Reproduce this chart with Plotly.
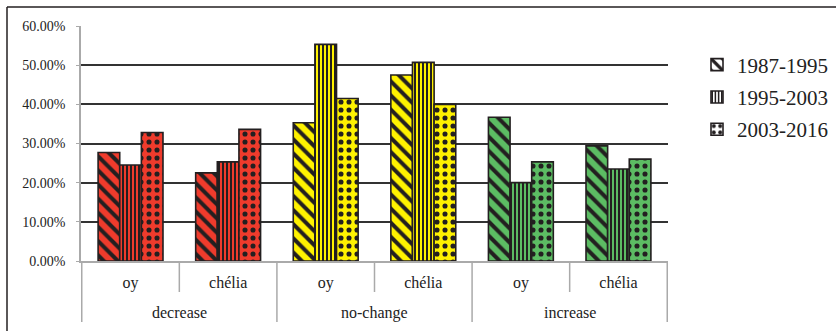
import plotly.graph_objects as go

# Categories: change class (group) and site (sub-category)
groups = ["decrease", "decrease", "no-change", "no-change", "increase", "increase"]
sites = ["oy", "chélia", "oy", "chélia", "oy", "chélia"]
group_names = ["decrease", "no-change", "increase"]

# Share of area per period (fractions)
periods = ["1987-1995", "1995-2003", "2003-2016"]
p1987_1995 = [0.277, 0.225, 0.353, 0.475, 0.367, 0.294]
p1995_2003 = [0.245, 0.253, 0.553, 0.507, 0.200, 0.235]
p2003_2016 = [0.328, 0.336, 0.415, 0.400, 0.253, 0.260]
series = [p1987_1995, p1995_2003, p2003_2016]

y_ticks = [0.0, 0.1, 0.2, 0.3, 0.4, 0.5, 0.6]

# Style
RED, YELLOW, GREEN = "#ef3b2c", "#fff200", "#5cbc63"
group_color = {"decrease": RED, "no-change": YELLOW, "increase": GREEN}
shapes_pat = ["\\", "|", "."]
pat_size = [10, 4, 8]
pat_solid = [0.4, 0.5, 0.32]
INK = "#231f20"
FONT = "Liberation Serif"

W, H = 836, 331
ML, MR, MT, MB = 81, 168, 26, 70
PW, PH = W - ML - MR, H - MT - MB

keys = [f"{g}|{s}" for g, s in zip(groups, sites)]

fig = go.Figure()
for i, (name, vals) in enumerate(zip(periods, series)):
    pattern = dict(shape=shapes_pat[i], fgcolor=INK, size=pat_size[i],
                   solidity=pat_solid[i], fillmode="replace")
    # one trace per change class so each keeps a single fill colour;
    # offsetgroup keeps the period slot consistent across classes
    for g in group_names:
        idx = [k for k, gg in enumerate(groups) if gg == g]
        col = group_color[g]
        fig.add_trace(go.Bar(
            x=[keys[k] for k in idx], y=[vals[k] for k in idx],
            name=name, offsetgroup=str(i), legendgroup=name, showlegend=False,
            marker=dict(color=col, line=dict(color=INK, width=1.6),
                        pattern=dict(pattern, bgcolor=col)),
            hovertemplate="%{y:.2%}<extra>" + name + "</extra>",
        ))
    # legend swatch in black and white
    fig.add_trace(go.Bar(
        x=[keys[0]], y=[None], name=name, offsetgroup=str(i),
        legendgroup=name, showlegend=True,
        marker=dict(color="white", line=dict(color=INK, width=1.6),
                    pattern=dict(pattern, bgcolor="white")),
    ))

# Category separators below the axis
shapes = []
sub_len = (292 - 261) / PH
grp_len = (322 - 261) / PH
for b in range(len(keys) + 1):
    edge = b - 0.5
    is_group = b == 0 or b == len(keys) or groups[b] != groups[b - 1]
    shapes.append(dict(type="line", xref="x", yref="paper", x0=edge, x1=edge,
                       y0=0, y1=-(grp_len if is_group else sub_len),
                       line=dict(color="#aaaaaa", width=1.5)))

# Outer frame: only its top and left edges lie inside the figure
frame_left = (7 - ML) / PW
frame_top = 1 + (MT - 7) / PH
frame_bottom = -(H + 20 - MT - PH) / PH
frame_right = (W + 20 - ML) / PW
for x0, y0, x1, y1 in [(frame_left, frame_top, frame_right, frame_top),
                       (frame_left, frame_bottom, frame_left, frame_top)]:
    shapes.append(dict(type="line", xref="paper", yref="paper",
                       x0=x0, y0=y0, x1=x1, y1=y1,
                       line=dict(color=INK, width=1.5), layer="below"))

# Group labels
annotations = []
for g in group_names:
    idx = [i for i, gg in enumerate(groups) if gg == g]
    annotations.append(dict(text=g, xref="x", yref="paper",
                            x=(idx[0] + idx[-1]) / 2, y=-(313 - 261) / PH,
                            showarrow=False, yanchor="middle",
                            font=dict(family=FONT, size=16, color="#222")))

fig.update_layout(
    width=W, height=H,
    margin=dict(l=ML, r=MR, t=MT, b=MB, autoexpand=False),
    paper_bgcolor="white", plot_bgcolor="white",
    barmode="group", bargap=0.335, bargroupgap=0,
    shapes=shapes, annotations=annotations,
    legend=dict(x=(697 - ML) / PW, xanchor="left", y=(261 - 97) / PH,
                yanchor="middle", bgcolor="rgba(0,0,0,0)",
                traceorder="grouped", tracegroupgap=2,
                font=dict(family=FONT, size=21, color="#222")),
    font=dict(family=FONT, color="#222"),
)
fig.update_xaxes(type="category", tickvals=keys, ticktext=sites,
                 tickfont=dict(family=FONT, size=16, color="#222"),
                 showline=True, linecolor="#aaaaaa", linewidth=1.5,
                 ticks="", showgrid=False, ticklabelstandoff=6)
fig.update_yaxes(range=[0, 0.6], tickvals=y_ticks, tickformat=".2%",
                 tickfont=dict(family=FONT, size=14, color="#222"),
                 showgrid=True, gridcolor="#333333", gridwidth=1.5,
                 showline=True, linecolor="#aaaaaa", linewidth=1.5,
                 ticks="outside", ticklen=3, tickcolor="#aaaaaa",
                 ticklabelstandoff=8, zeroline=False)

fig.write_html("out.html")
